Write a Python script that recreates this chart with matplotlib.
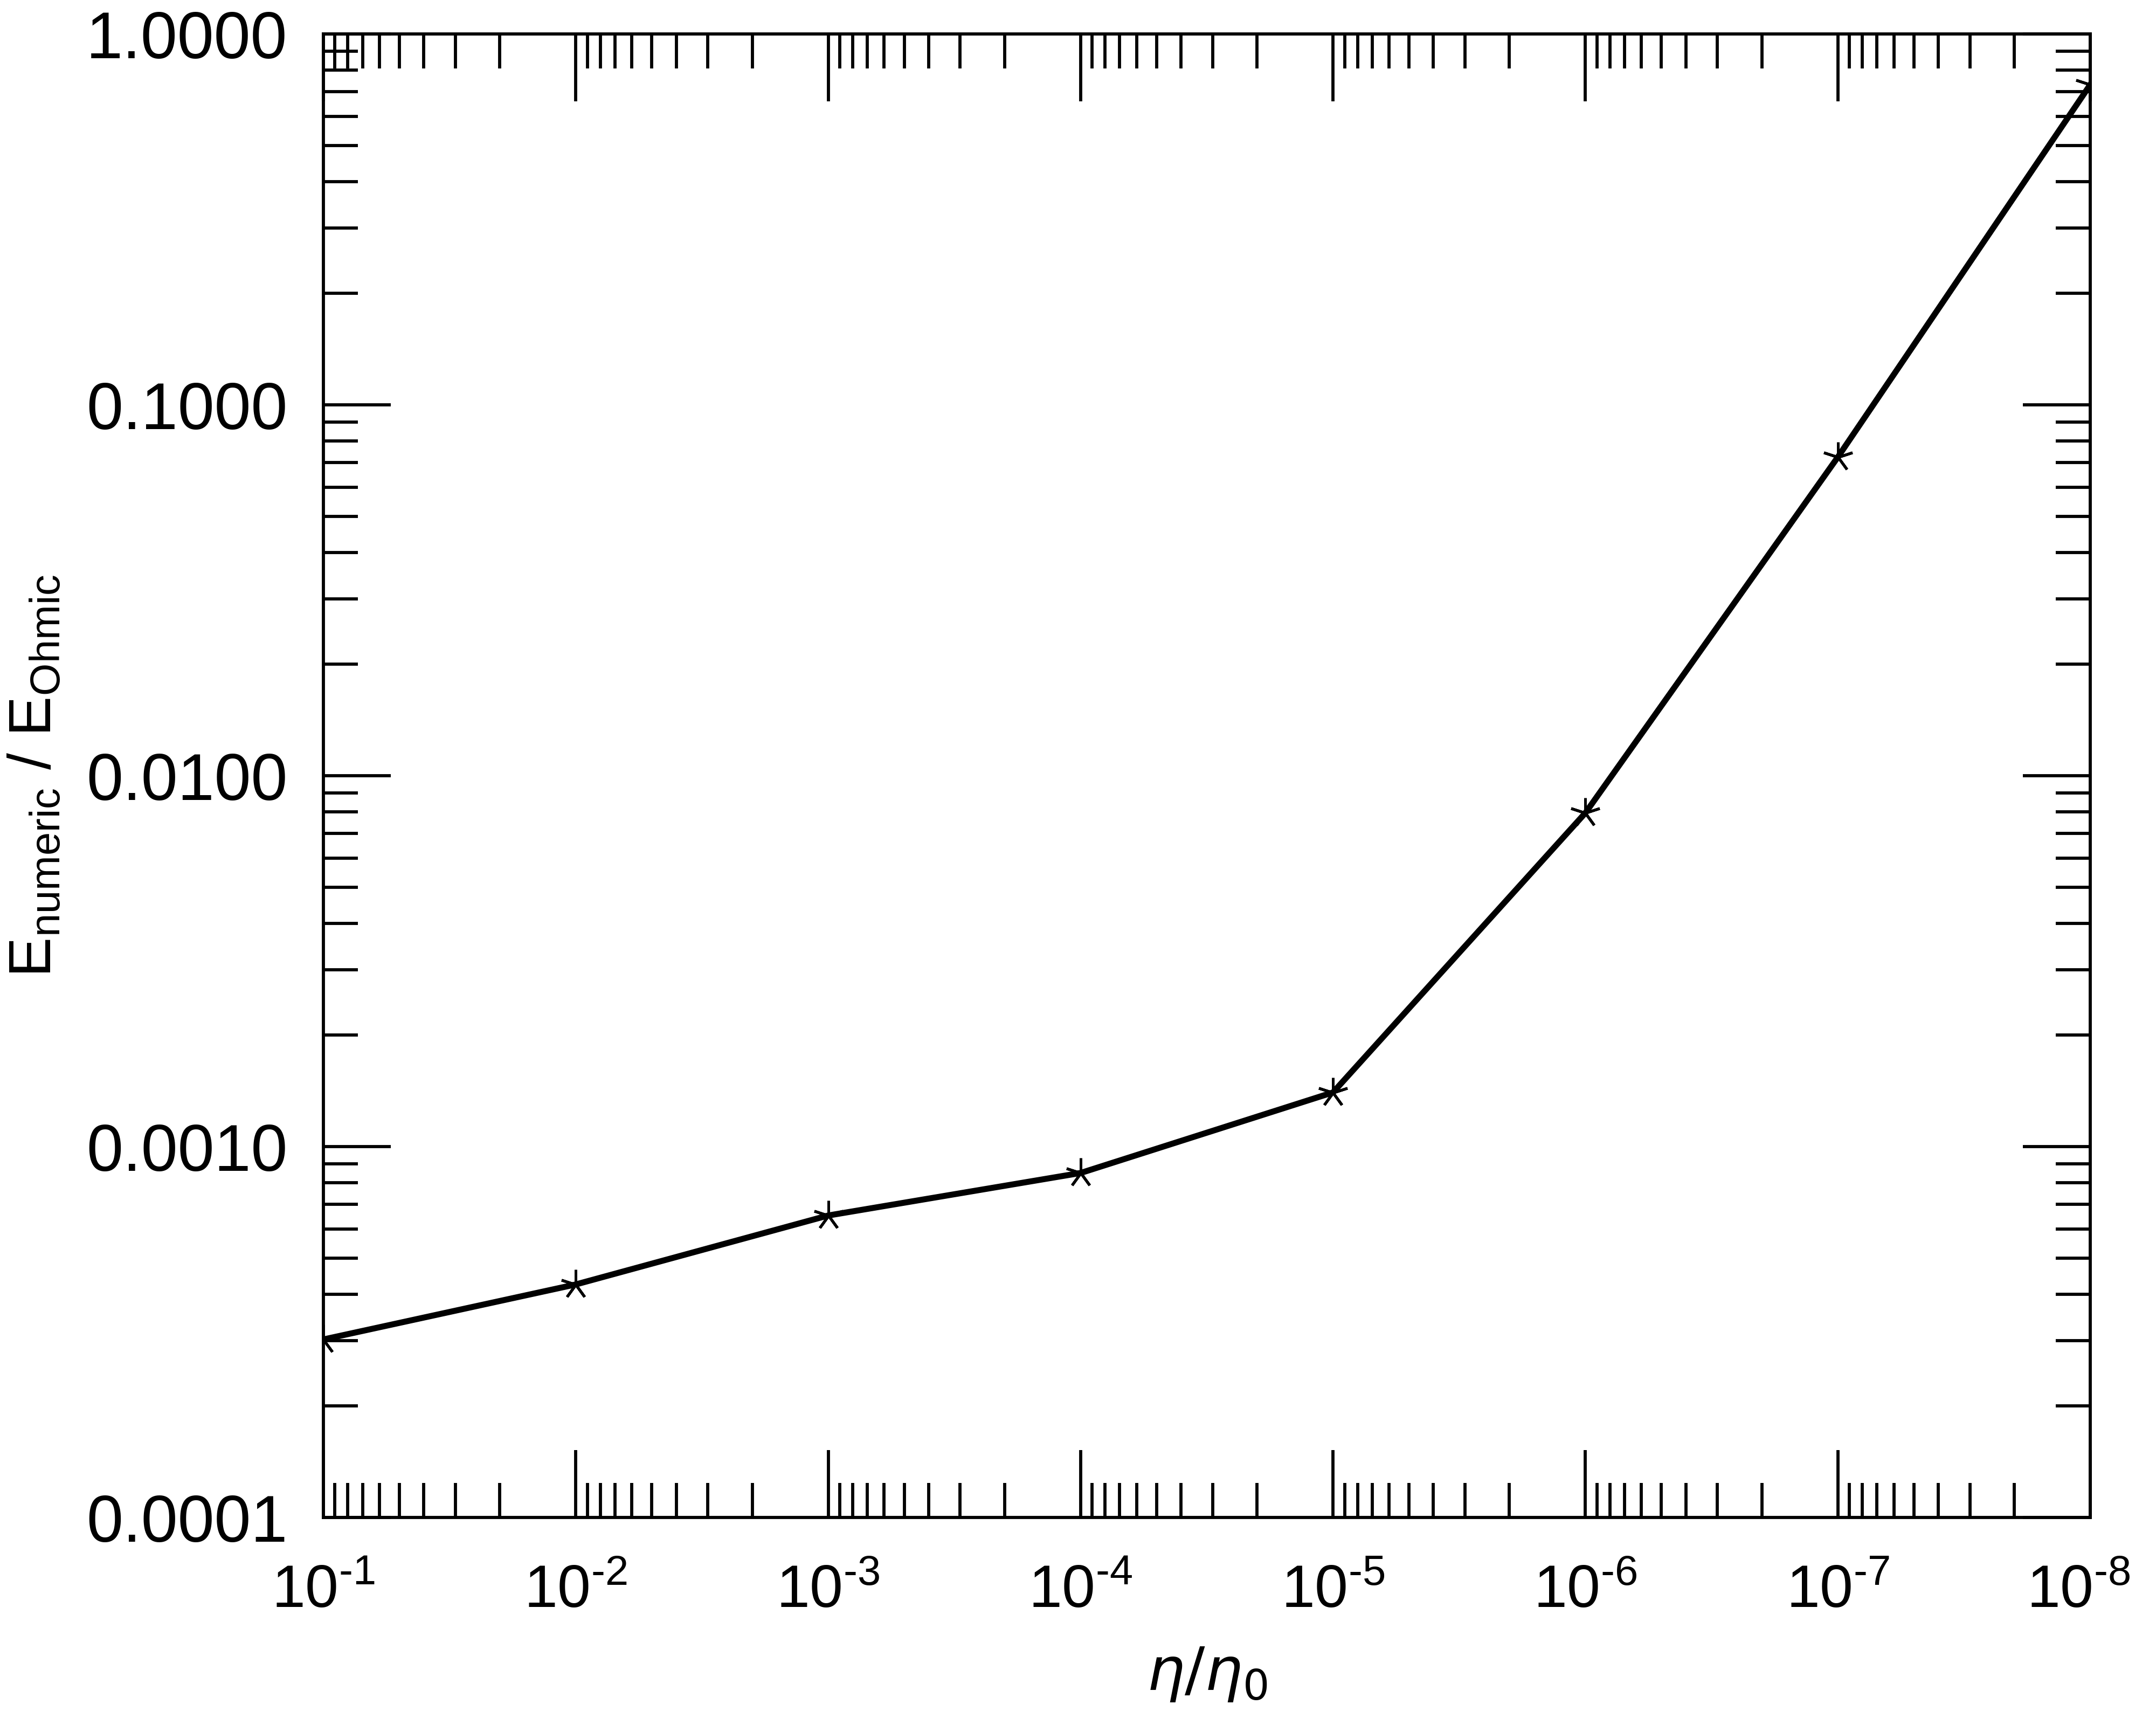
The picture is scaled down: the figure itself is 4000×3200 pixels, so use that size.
import numpy as np
import matplotlib
matplotlib.use("Agg")
import matplotlib.pyplot as plt
from matplotlib.ticker import LogLocator, FuncFormatter, NullFormatter
from matplotlib.transforms import ScaledTranslation

# data
eta_ratio = [1e-1, 1e-2, 1e-3, 1e-4, 1e-5, 1e-6, 1e-7, 1e-8]
energy_ratio = [3.02e-4, 4.25e-4, 6.52e-4, 8.49e-4, 1.40e-3, 7.94e-3, 7.23e-2, 0.73]

plt.rcParams['font.family'] = ['Liberation Sans', 'DejaVu Sans']
plt.rcParams['mathtext.fontset'] = 'custom'
plt.rcParams['mathtext.rm'] = 'Liberation Sans'
plt.rcParams['mathtext.it'] = 'Liberation Sans:italic'

fig = plt.figure(figsize=(20, 16), dpi=200)
ax = fig.add_axes([0.15, 0.1203, 0.8195, 0.86])

ax.plot(eta_ratio, energy_ratio, color='black', lw=4.0,
        marker=(5, 2, 0), ms=20, mew=1.8)

ax.set_xscale('log')
ax.set_yscale('log')
ax.set_xlim(1e-1, 1e-8)
ax.set_ylim(1e-4, 1)

ax.xaxis.set_major_locator(LogLocator(base=10, numticks=20))
ax.xaxis.set_minor_locator(LogLocator(base=10, subs=np.arange(2, 10), numticks=50))
ax.yaxis.set_major_locator(LogLocator(base=10, numticks=20))
ax.yaxis.set_minor_locator(LogLocator(base=10, subs=np.arange(2, 10), numticks=50))


def pow_label(v, p):
    n = int(round(np.log10(v)))
    return r'$\mathdefault{10^{\text{-}%d}}$' % (-n)


ax.xaxis.set_major_formatter(FuncFormatter(pow_label))
ax.xaxis.set_minor_formatter(NullFormatter())
ax.yaxis.set_major_formatter(FuncFormatter(lambda v, p: f'{v:.4f}'))
ax.yaxis.set_minor_formatter(NullFormatter())

for s in ax.spines.values():
    s.set_linewidth(2.1)

ax.tick_params(which='both', direction='in', top=True, right=True,
               width=2.1, labelsize=44)
ax.tick_params(which='major', length=45)
ax.tick_params(which='minor', length=23)
ax.tick_params(axis='x', which='major', pad=31, labelsize=40)
ax.tick_params(axis='y', which='major', pad=24)

ax.set_xlabel(r'$\eta/\eta_0$', fontsize=40, math_fontfamily='dejavusans')
ax.xaxis.set_label_coords(0.5, -0.086)
ax.set_ylabel(r'$\mathrm{E_{numeric}\ /\ E_{Ohmic}}$', fontsize=40)
ax.yaxis.set_label_coords(-0.147, 0.5)

# nudge the last x label so it stays inside the figure
fig.canvas.draw()
last = [t for t in ax.xaxis.get_major_ticks() if t.label1.get_visible()
        and t.get_loc() <= 1.01e-8 and t.get_loc() >= 0.99e-8]
for t in last:
    t.label1.set_transform(t.label1.get_transform()
                           + ScaledTranslation(-8 / 72, 0, fig.dpi_scale_trans))

fig.savefig('out.png', dpi=200)
